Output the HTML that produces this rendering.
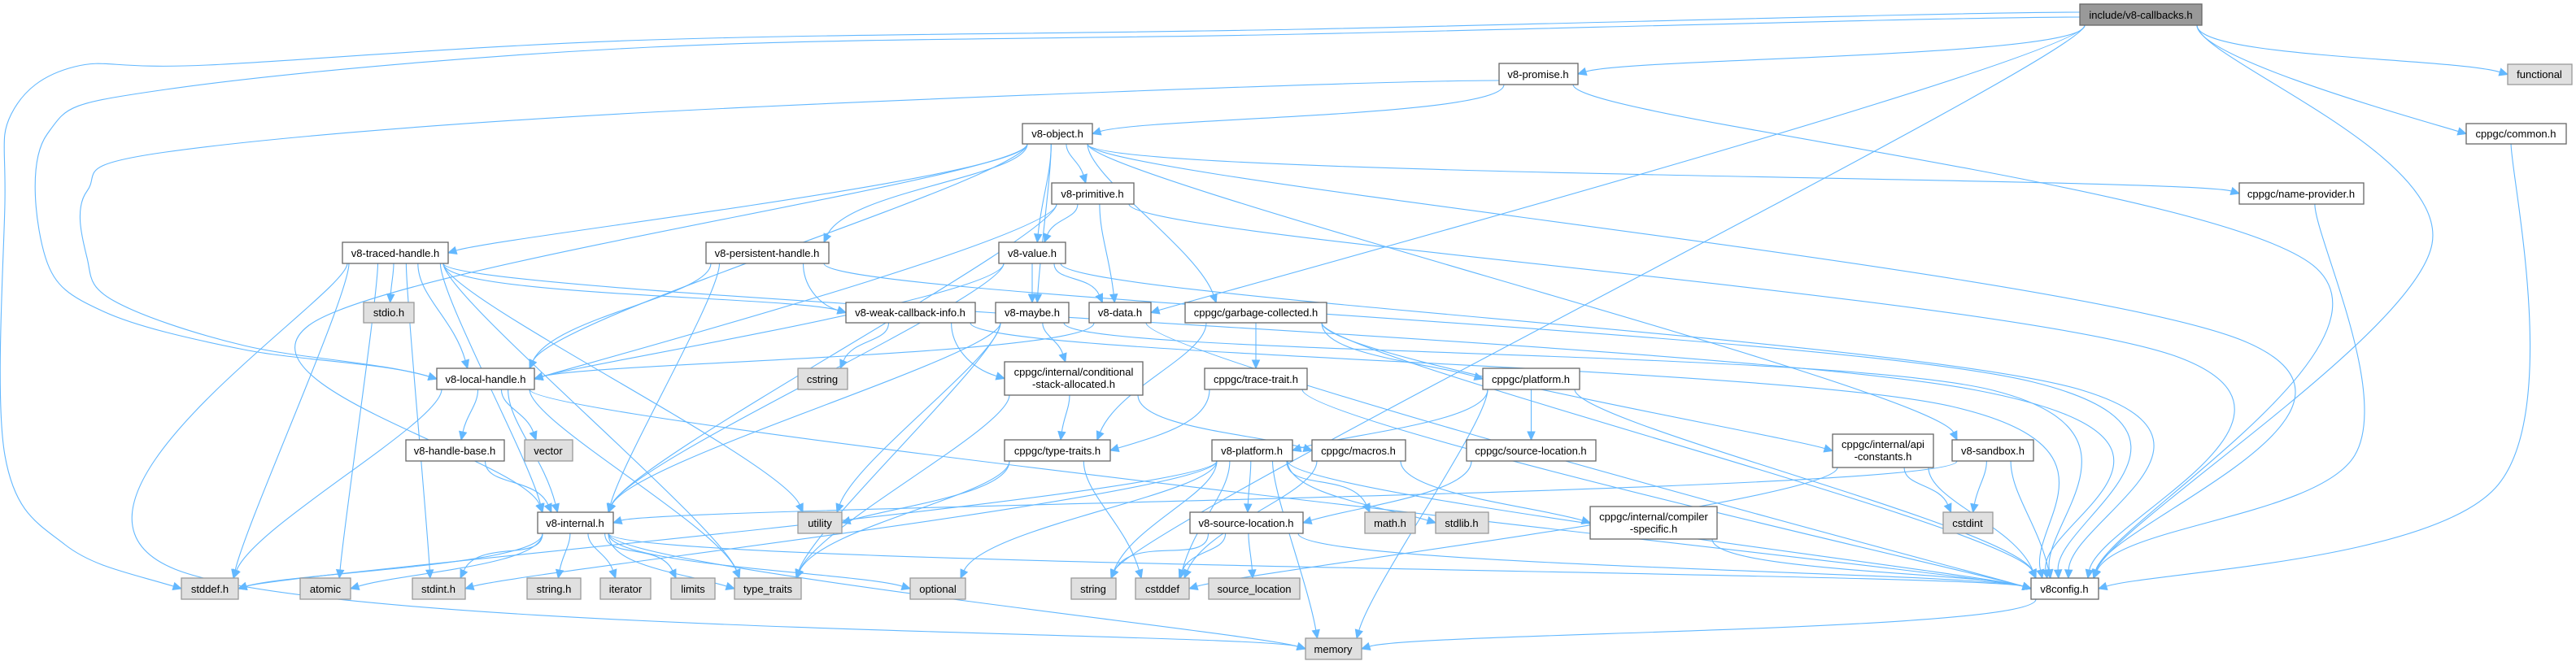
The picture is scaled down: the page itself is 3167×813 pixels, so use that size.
<!DOCTYPE html>
<html><head><meta charset="utf-8">
<style>
html,body{margin:0;padding:0;background:#fff;}
svg{display:block;}
text{font-family:"Liberation Sans",Arial,sans-serif;font-size:13px;fill:#000;}
</style></head>
<body>
<svg id="g" width="3167" height="813" viewBox="0 0 3167 813" xmlns="http://www.w3.org/2000/svg">
<g id="edges" fill="none" stroke="#63b8ff" stroke-width="1.1"></g>
<g id="arrows" fill="#63b8ff" stroke="#63b8ff"></g>
<g id="nodes" stroke-width="1.3">
<rect x="2557" y="5" width="150" height="26" fill="#999" stroke="#666"/><text x="2632" y="23" text-anchor="middle">include/v8-callbacks.h</text>
<rect x="1843" y="78" width="97" height="26" fill="#fff" stroke="#666"/><text x="1891" y="96" text-anchor="middle">v8-promise.h</text>
<rect x="3083" y="79" width="79" height="25" fill="#e0e0e0" stroke="#999"/><text x="3122" y="96" text-anchor="middle">functional</text>
<rect x="3032" y="152" width="123" height="25" fill="#fff" stroke="#666"/><text x="3093" y="169" text-anchor="middle">cppgc/common.h</text>
<rect x="1257" y="152" width="86" height="25" fill="#fff" stroke="#666"/><text x="1300" y="169" text-anchor="middle">v8-object.h</text>
<rect x="1293" y="225" width="101" height="26" fill="#fff" stroke="#666"/><text x="1343" y="243" text-anchor="middle">v8-primitive.h</text>
<rect x="2753" y="225" width="153" height="26" fill="#fff" stroke="#666"/><text x="2829" y="243" text-anchor="middle">cppgc/name-provider.h</text>
<rect x="421" y="298" width="130" height="26" fill="#fff" stroke="#666"/><text x="486" y="316" text-anchor="middle">v8-traced-handle.h</text>
<rect x="868" y="298" width="151" height="26" fill="#fff" stroke="#666"/><text x="943" y="316" text-anchor="middle">v8-persistent-handle.h</text>
<rect x="1228" y="298" width="82" height="26" fill="#fff" stroke="#666"/><text x="1269" y="316" text-anchor="middle">v8-value.h</text>
<rect x="447" y="372" width="62" height="25" fill="#e0e0e0" stroke="#999"/><text x="478" y="389" text-anchor="middle">stdio.h</text>
<rect x="1040" y="372" width="159" height="25" fill="#fff" stroke="#666"/><text x="1119" y="389" text-anchor="middle">v8-weak-callback-info.h</text>
<rect x="1224" y="372" width="90" height="25" fill="#fff" stroke="#666"/><text x="1269" y="389" text-anchor="middle">v8-maybe.h</text>
<rect x="1339" y="372" width="76" height="25" fill="#fff" stroke="#666"/><text x="1377" y="389" text-anchor="middle">v8-data.h</text>
<rect x="1457" y="372" width="174" height="25" fill="#fff" stroke="#666"/><text x="1544" y="389" text-anchor="middle">cppgc/garbage-collected.h</text>
<rect x="537" y="453" width="120" height="26" fill="#fff" stroke="#666"/><text x="597" y="471" text-anchor="middle">v8-local-handle.h</text>
<rect x="981" y="453" width="61" height="26" fill="#e0e0e0" stroke="#999"/><text x="1011" y="471" text-anchor="middle">cstring</text>
<rect x="1235" y="445" width="170" height="41" fill="#fff" stroke="#666"/><text x="1320" y="462" text-anchor="middle">cppgc/internal/conditional</text><text x="1320" y="477" text-anchor="middle">-stack-allocated.h</text>
<rect x="1481" y="453" width="126" height="26" fill="#fff" stroke="#666"/><text x="1544" y="471" text-anchor="middle">cppgc/trace-trait.h</text>
<rect x="1823" y="453" width="119" height="26" fill="#fff" stroke="#666"/><text x="1882" y="471" text-anchor="middle">cppgc/platform.h</text>
<rect x="499" y="541" width="121" height="26" fill="#fff" stroke="#666"/><text x="559" y="559" text-anchor="middle">v8-handle-base.h</text>
<rect x="645" y="541" width="59" height="26" fill="#e0e0e0" stroke="#999"/><text x="674" y="559" text-anchor="middle">vector</text>
<rect x="1235" y="541" width="130" height="26" fill="#fff" stroke="#666"/><text x="1300" y="559" text-anchor="middle">cppgc/type-traits.h</text>
<rect x="1490" y="541" width="99" height="26" fill="#fff" stroke="#666"/><text x="1539" y="559" text-anchor="middle">v8-platform.h</text>
<rect x="1613" y="541" width="115" height="26" fill="#fff" stroke="#666"/><text x="1670" y="559" text-anchor="middle">cppgc/macros.h</text>
<rect x="1803" y="541" width="159" height="26" fill="#fff" stroke="#666"/><text x="1882" y="559" text-anchor="middle">cppgc/source-location.h</text>
<rect x="2253" y="534" width="124" height="41" fill="#fff" stroke="#666"/><text x="2315" y="551" text-anchor="middle">cppgc/internal/api</text><text x="2315" y="566" text-anchor="middle">-constants.h</text>
<rect x="2400" y="541" width="100" height="26" fill="#fff" stroke="#666"/><text x="2450" y="559" text-anchor="middle">v8-sandbox.h</text>
<rect x="661" y="630" width="93" height="26" fill="#fff" stroke="#666"/><text x="707" y="648" text-anchor="middle">v8-internal.h</text>
<rect x="981" y="630" width="54" height="26" fill="#e0e0e0" stroke="#999"/><text x="1008" y="648" text-anchor="middle">utility</text>
<rect x="1463" y="630" width="139" height="26" fill="#fff" stroke="#666"/><text x="1532" y="648" text-anchor="middle">v8-source-location.h</text>
<rect x="1678" y="630" width="62" height="26" fill="#e0e0e0" stroke="#999"/><text x="1709" y="648" text-anchor="middle">math.h</text>
<rect x="1765" y="630" width="65" height="26" fill="#e0e0e0" stroke="#999"/><text x="1797" y="648" text-anchor="middle">stdlib.h</text>
<rect x="1955" y="623" width="156" height="40" fill="#fff" stroke="#666"/><text x="2033" y="640" text-anchor="middle">cppgc/internal/compiler</text><text x="2033" y="655" text-anchor="middle">-specific.h</text>
<rect x="2389" y="630" width="61" height="26" fill="#e0e0e0" stroke="#999"/><text x="2419" y="648" text-anchor="middle">cstdint</text>
<rect x="223" y="711" width="70" height="26" fill="#e0e0e0" stroke="#999"/><text x="258" y="729" text-anchor="middle">stddef.h</text>
<rect x="369" y="711" width="62" height="26" fill="#e0e0e0" stroke="#999"/><text x="400" y="729" text-anchor="middle">atomic</text>
<rect x="507" y="711" width="65" height="26" fill="#e0e0e0" stroke="#999"/><text x="539" y="729" text-anchor="middle">stdint.h</text>
<rect x="648" y="711" width="66" height="26" fill="#e0e0e0" stroke="#999"/><text x="681" y="729" text-anchor="middle">string.h</text>
<rect x="738" y="711" width="62" height="26" fill="#e0e0e0" stroke="#999"/><text x="769" y="729" text-anchor="middle">iterator</text>
<rect x="825" y="711" width="54" height="26" fill="#e0e0e0" stroke="#999"/><text x="852" y="729" text-anchor="middle">limits</text>
<rect x="903" y="711" width="82" height="26" fill="#e0e0e0" stroke="#999"/><text x="944" y="729" text-anchor="middle">type_traits</text>
<rect x="1119" y="711" width="68" height="26" fill="#e0e0e0" stroke="#999"/><text x="1153" y="729" text-anchor="middle">optional</text>
<rect x="1317" y="711" width="55" height="26" fill="#e0e0e0" stroke="#999"/><text x="1344" y="729" text-anchor="middle">string</text>
<rect x="1396" y="711" width="66" height="26" fill="#e0e0e0" stroke="#999"/><text x="1429" y="729" text-anchor="middle">cstddef</text>
<rect x="1486" y="711" width="112" height="26" fill="#e0e0e0" stroke="#999"/><text x="1542" y="729" text-anchor="middle">source_location</text>
<rect x="2497" y="711" width="83" height="26" fill="#fff" stroke="#666"/><text x="2538" y="729" text-anchor="middle">v8config.h</text>
<rect x="1605" y="785" width="69" height="26" fill="#e0e0e0" stroke="#999"/><text x="1639" y="803" text-anchor="middle">memory</text>
</g>
</svg>
<script>
var N={
cb:[2557,5,150,26],promise:[1843,78,97,26],functional:[3083,79,79,25],common:[3032,152,123,25],
object:[1257,152,86,25],primitive:[1293,225,101,26],name:[2753,225,153,26],traced:[421,298,130,26],
persistent:[868,298,151,26],value:[1228,298,82,26],stdio:[447,372,62,25],weak:[1040,372,159,25],
maybe:[1224,372,90,25],data:[1339,372,76,25],gc:[1457,372,174,25],local:[537,453,120,26],
cstring:[981,453,61,26],cond:[1235,445,170,41],trace:[1481,453,126,26],platform:[1823,453,119,26],
hbase:[499,541,121,26],vector:[645,541,59,26],tt:[1235,541,130,26],v8plat:[1490,541,99,26],
macros:[1613,541,115,26],csl:[1803,541,159,26],api:[2253,534,124,41],sandbox:[2400,541,100,26],
internal:[661,630,93,26],utility:[981,630,54,26],v8sl:[1463,630,139,26],math:[1678,630,62,26],
stdlib:[1765,630,65,26],comp:[1955,623,156,40],cstdint:[2389,630,61,26],stddef:[223,711,70,26],
atomic:[369,711,62,26],stdint:[507,711,65,26],stringh:[648,711,66,26],iterator:[738,711,62,26],
limits:[825,711,54,26],type_traits:[903,711,82,26],optional:[1119,711,68,26],string:[1317,711,55,26],
cstddef:[1396,711,66,26],srcloc:[1486,711,112,26],v8config:[2497,711,83,26],memory:[1605,785,69,26]};
var E=[
["cb","promise"],["cb","functional"],["cb","common"],["cb","v8config",[[2990,300]]],["cb","data"],["cb","string"],
["cb","stddef",[[1600,36],[800,49],[255,80],[92,82],[14,140],[6,250],[6,560],[80,670]],1],
["cb","local",[[1600,42],[800,58],[204,110],[58,165],[56,317],[127,383],[300,430]],1],
["promise","object"],["promise","local",[[800,138],[204,187],[107,235],[107,317],[140,370],[300,425]],1],
["promise","v8config",[[2848,330]]],
["common","v8config",[[3068,600]]],["name","v8config",[[2895,560]]],
["object","traced"],["object","persistent"],["object","primitive"],["object","value"],["object","maybe"],["object","gc"],
["object","sandbox"],["object","name"],["object","v8config",[[2760,420]]],["object","local"],["object","internal",[[380,400]]],
["primitive","value"],["primitive","data"],["primitive","local"],["primitive","internal"],["primitive","v8config",[[2680,440]]],
["value","maybe"],["value","data"],["value","local"],["value","internal"],["value","v8config",[[2560,480]]],
["persistent","weak"],["persistent","local"],["persistent","internal"],["persistent","v8config",[[2500,470]]],
["traced","stdio"],["traced","local"],["traced","weak"],["traced","internal"],["traced","stddef"],["traced","atomic"],
["traced","stdint"],["traced","memory",[[215,700]]],["traced","type_traits"],["traced","utility"],["traced","v8config",[[2430,480]]],
["weak","cstring"],["weak","cond"],["weak","v8config",[[2400,500]]],
["maybe","cond"],["maybe","internal"],["maybe","type_traits"],["maybe","utility"],["maybe","v8config",[[2450,480]]],
["data","local"],["data","v8config"],
["gc","trace"],["gc","platform"],["gc","tt"],["gc","api"],["gc","v8config"],
["cond","tt"],["cond","macros"],["cond","type_traits"],
["trace","tt"],["trace","v8config"],
["tt","cstddef"],["tt","type_traits"],["tt","utility"],
["platform","v8plat"],["platform","csl"],["platform","memory"],["platform","v8config"],
["v8plat","stddef"],["v8plat","stdint"],["v8plat","math"],["v8plat","stdlib"],["v8plat","memory"],["v8plat","string"],
["v8plat","optional"],["v8plat","v8sl"],["v8plat","v8config"],["v8plat","cstddef"],
["csl","v8sl"],["macros","comp"],["macros","cstddef"],
["v8sl","string"],["v8sl","cstddef"],["v8sl","srcloc"],["v8sl","v8config"],
["api","cstddef"],["api","cstdint"],["api","v8config"],
["sandbox","cstdint"],["sandbox","v8config"],["sandbox","internal"],["comp","v8config"],
["internal","stddef"],["internal","atomic"],["internal","stdint"],["internal","stringh"],["internal","iterator"],
["internal","limits"],["internal","type_traits"],["internal","optional"],["internal","memory"],["internal","v8config"],
["local","hbase"],["local","vector"],["local","internal"],["local","stddef"],["local","type_traits"],["local","v8config"],
["hbase","internal"],["v8config","memory"]];
var NS="http://www.w3.org/2000/svg",eg=document.getElementById("edges"),ag=document.getElementById("arrows");
function cl(v,a,b){return Math.max(a,Math.min(b,v));}
E.forEach(function(e){
 var s=N[e[0]],t=N[e[1]],way=e[2]||[];
 var scx=s[0]+s[2]/2,tcx=t[0]+t[2]/2,tcy=t[1]+t[3]/2;
 var p0,c1,pe,dirE;
 var first=way.length?way[0]:[tcx,t[1]];
 if(e[3]){p0=[s[0],s[1]+s[3]/2+(e[1]=="stddef"?-3:(e[1]=="local"&&e[0]=="cb"?3:8))];if(e[0]=="promise")p0=[s[0],s[1]+s[3]-5];c1=[p0[0]-150,p0[1]];}
 else{var sx=cl(scx+(first[0]-scx)*0.25,s[0]+6,s[0]+s[2]-6);p0=[sx,s[1]+s[3]];c1=[sx,p0[1]+40];}
 var last=way.length?way[way.length-1]:[scx,s[1]+s[3]];
 var dx=tcx-last[0],dy=t[1]-last[1];
 if(dy<15||Math.abs(dx)>3.5*Math.abs(dy)){
   var side=dx>0?t[0]:t[0]+t[2];pe=[side,tcy];dirE=[dx>0?1:-1,dy>0?0.3:-0.3];
 }else{
   var ex=cl(tcx+(last[0]-tcx)*0.2,t[0]+6,t[0]+t[2]-6);pe=[ex,t[1]];
   var vx=(pe[0]-last[0]),vy=(pe[1]-last[1]);var L=Math.hypot(vx,vy);dirE=[vx/L*0.5,1];
 }
 var dl=Math.hypot(dirE[0],dirE[1]);dirE=[dirE[0]/dl,dirE[1]/dl];
 var base=[pe[0]-dirE[0]*10,pe[1]-dirE[1]*10];
 var pts=[p0].concat(way).concat([base]);
 var d="M"+p0[0].toFixed(1)+","+p0[1].toFixed(1);
 for(var i=0;i<pts.length-1;i++){
  var a=pts[i],b=pts[i+1],ca,cb2;
  var seg=Math.hypot(b[0]-a[0],b[1]-a[1]);
  if(i==0){var f=Math.min(1,seg/(e[3]?300:120));ca=[a[0]+(c1[0]-a[0])*f,a[1]+(c1[1]-a[1])*f];}
  else{var pp=pts[i-1];ca=[a[0]+(b[0]-pp[0])/6,a[1]+(b[1]-pp[1])/6];}
  if(i==pts.length-2){var k=Math.min(60,seg*0.4);cb2=[b[0]-dirE[0]*k,b[1]-dirE[1]*k];}
  else{var nn=pts[i+2];cb2=[b[0]-(nn[0]-a[0])/6,b[1]-(nn[1]-a[1])/6];}
  d+=" C"+ca[0].toFixed(1)+","+ca[1].toFixed(1)+" "+cb2[0].toFixed(1)+","+cb2[1].toFixed(1)+" "+b[0].toFixed(1)+","+b[1].toFixed(1);
 }
 var p=document.createElementNS(NS,"path");p.setAttribute("d",d);eg.appendChild(p);
 var nx=-dirE[1],ny=dirE[0];
 var poly=document.createElementNS(NS,"polygon");
 poly.setAttribute("points",[pe[0],pe[1],base[0]+nx*4.5,base[1]+ny*4.5,base[0]-nx*4.5,base[1]-ny*4.5].map(function(v){return v.toFixed(1)}).join(" "));
 ag.appendChild(poly);
});
</script>
</body></html>
